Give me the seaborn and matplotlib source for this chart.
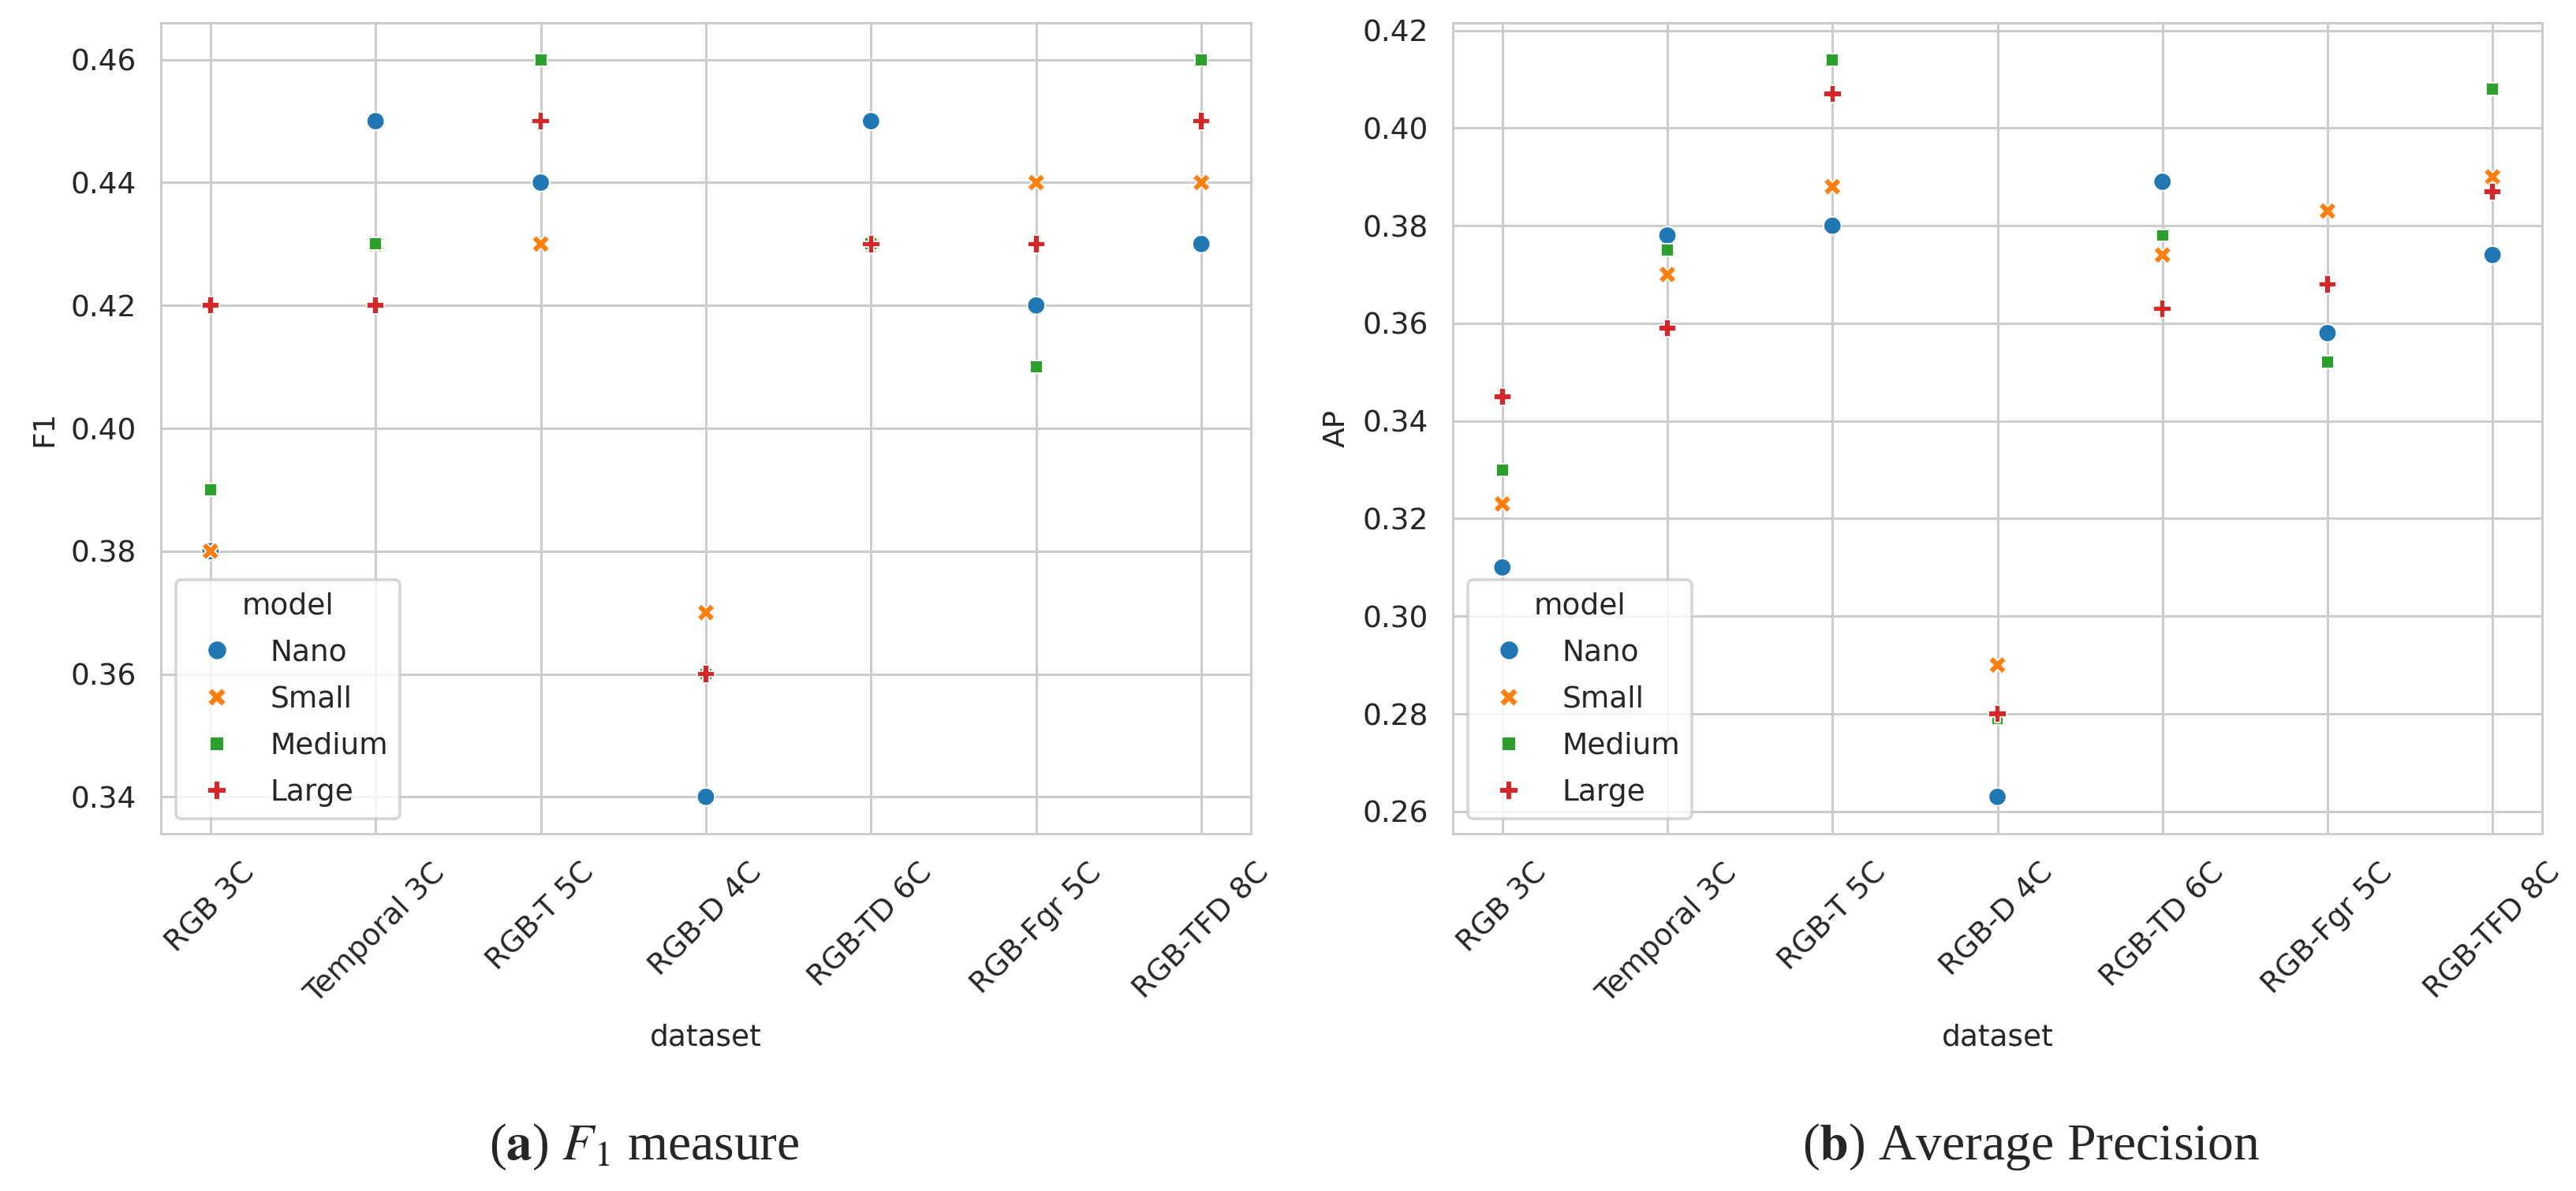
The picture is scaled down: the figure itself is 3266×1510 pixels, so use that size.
import numpy as np
import pandas as pd
import matplotlib
matplotlib.use("Agg")
import matplotlib.pyplot as plt
from matplotlib.lines import Line2D
import seaborn as sns

datasets = ["RGB 3C", "Temporal 3C", "RGB-T 5C", "RGB-D 4C", "RGB-TD 6C", "RGB-Fgr 5C", "RGB-TFD 8C"]
models = ["Nano", "Small", "Medium", "Large"]

f1_nano = [0.38, 0.45, 0.44, 0.34, 0.45, 0.42, 0.43]
f1_small = [0.38, 0.43, 0.43, 0.37, 0.43, 0.44, 0.44]
f1_medium = [0.39, 0.43, 0.46, 0.36, 0.43, 0.41, 0.46]
f1_large = [0.42, 0.42, 0.45, 0.36, 0.43, 0.43, 0.45]

ap_nano = [0.310, 0.378, 0.380, 0.263, 0.389, 0.358, 0.374]
ap_small = [0.323, 0.370, 0.388, 0.290, 0.374, 0.383, 0.390]
ap_medium = [0.330, 0.375, 0.414, 0.279, 0.378, 0.352, 0.408]
ap_large = [0.345, 0.359, 0.407, 0.280, 0.363, 0.368, 0.387]

f1_vals = [f1_nano, f1_small, f1_medium, f1_large]
ap_vals = [ap_nano, ap_small, ap_medium, ap_large]

rows = []
for m, f1s, aps in zip(models, f1_vals, ap_vals):
    for d, f, a in zip(datasets, f1s, aps):
        rows.append({"dataset": d, "model": m, "F1": f, "AP": a})
df = pd.DataFrame(rows)

sns.set_style("whitegrid")

W, H, DPI = 3266, 1510, 270
fig = plt.figure(figsize=(W / DPI, H / DPI), dpi=DPI)

def px_axes(x0, y0, x1, y1):
    return fig.add_axes([x0 / W, 1 - y1 / H, (x1 - x0) / W, (y1 - y0) / H])

ax1 = px_axes(204, 29, 1586, 1057)
ax2 = px_axes(1842, 29, 3223, 1057)

palette = sns.color_palette("tab10", 4)
marker_list = ["o", "X", (4, 0, 45), "P"]
marker_map = dict(zip(models, marker_list))

for ax, col in [(ax1, "F1"), (ax2, "AP")]:
    sns.scatterplot(data=df, x="dataset", y=col, hue="model", style="model",
                    hue_order=models, style_order=models, palette=palette,
                    markers=marker_map, ax=ax, legend=False)
    ax.tick_params(axis="x", rotation=45)
    ax.tick_params(axis="both", pad=4.8)
    ax.xaxis.labelpad = 5
    handles = [Line2D([], [], linestyle="", marker=mk, color=c, markersize=6.5,
                      markeredgecolor="w", markeredgewidth=0.5)
               for mk, c in zip(marker_list, palette)]
    ax.legend(handles, models, title="model", loc="lower left", fontsize=10,
              title_fontsize=10, handlelength=2.0, handletextpad=0.8,
              labelspacing=0.62)

ax1.set_yticks([0.34, 0.36, 0.38, 0.40, 0.42, 0.44, 0.46])
ax2.set_yticks([0.26, 0.28, 0.30, 0.32, 0.34, 0.36, 0.38, 0.40, 0.42])
for ax in (ax1, ax2):
    ax.yaxis.set_major_formatter(matplotlib.ticker.FormatStrFormatter("%.2f"))

plt.rcParams["mathtext.fontset"] = "stix"
fig.text(817 / W, 1 - 1470 / H, r"($\mathbf{a}$) $F_1$ measure", ha="center", va="baseline",
         fontsize=17.5, family="Liberation Serif")
fig.text(2575 / W, 1 - 1470 / H, r"($\mathbf{b}$) Average Precision", ha="center", va="baseline",
         fontsize=17.5, family="Liberation Serif")

fig.savefig("out.png", dpi=DPI)
